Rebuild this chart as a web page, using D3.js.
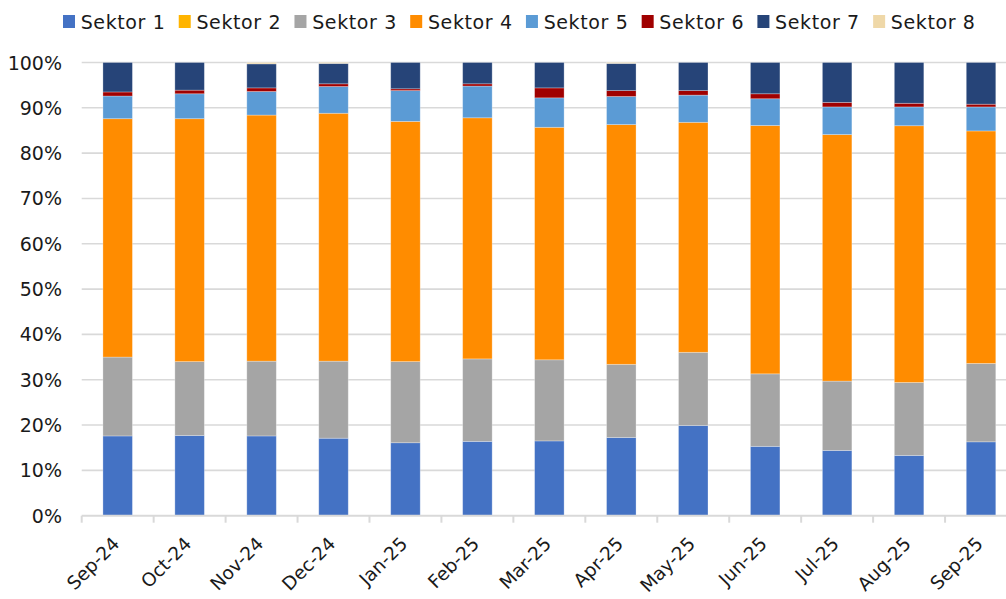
<!DOCTYPE html>
<html>
<head>
<meta charset="utf-8">
<script src="https://cdn.jsdelivr.net/npm/d3@7"></script>
<style>
  html, body { margin: 0; padding: 0; background: #fff; }
  svg { display: block; }
  text { font-family: "DejaVu Sans", sans-serif; fill: #1a1a1a; }
</style>
</head>
<body>
<svg id="chart" width="1006" height="599"></svg>
<script>
const categories = ["Sep-24","Oct-24","Nov-24","Dec-24","Jan-25","Feb-25","Mar-25","Apr-25","May-25","Jun-25","Jul-25","Aug-25","Sep-25"];
const seriesNames = ["Sektor 1","Sektor 2","Sektor 3","Sektor 4","Sektor 5","Sektor 6","Sektor 7","Sektor 8"];
const sektor1 = [17.6, 17.7, 17.6, 17.1, 16.1, 16.4, 16.5, 17.25, 19.9, 15.3, 14.4, 13.3, 16.3];
const sektor2 = [0, 0, 0, 0, 0, 0, 0, 0, 0, 0, 0, 0, 0];
const sektor3 = [17.4, 16.3, 16.5, 17.0, 17.9, 18.2, 17.9, 16.15, 16.15, 16.0, 15.3, 16.1, 17.3];
const sektor4 = [52.6, 53.6, 54.3, 54.7, 53.0, 53.2, 51.3, 52.9, 50.75, 54.8, 54.4, 56.65, 51.3];
const sektor5 = [5.0, 5.5, 5.2, 5.9, 6.8, 7.0, 6.5, 6.2, 6.0, 5.9, 6.1, 4.15, 5.3];
const sektor6 = [0.9, 0.8, 0.8, 0.6, 0.4, 0.5, 2.2, 1.3, 1.0, 1.1, 1.0, 0.8, 0.6];
const sektor7 = [6.5, 6.1, 5.3, 4.5, 5.8, 4.7, 5.6, 6.0, 6.2, 6.9, 8.8, 9.0, 9.2];
const sektor8 = [0, 0, 0.3, 0.2, 0, 0, 0, 0.2, 0, 0, 0, 0, 0];
const yTicks = [0, 10, 20, 30, 40, 50, 60, 70, 80, 90, 100];
const colors = ["#4472C4","#FFB400","#A5A5A5","#FF8C00","#5B9BD5","#A00000","#264478","#EFD8A8"];

const seriesValues = [sektor1, sektor2, sektor3, sektor4, sektor5, sektor6, sektor7, sektor8];
const table = categories.map((c, i) => {
  const row = { cat: c };
  seriesNames.forEach((s, j) => row[s] = seriesValues[j][i]);
  return row;
});

const svg = d3.select("#chart");
const xLeft = 81.7, xRight = 1017.0, yTop = 62.5, yBottom = 515.7;

const x = d3.scaleBand().domain(categories).range([xLeft, xRight])
  .paddingInner(0.59).paddingOuter(0.295);
const y = d3.scaleLinear().domain([0, 100]).range([yBottom, yTop]);

// gridlines
svg.append("g").selectAll("line").data(yTicks.filter(t => t > 0)).join("line")
  .attr("x1", xLeft).attr("x2", 1006)
  .attr("y1", d => y(d)).attr("y2", d => y(d))
  .attr("stroke", "#d9d9d9").attr("stroke-width", 1.6);

// y labels
svg.append("g").selectAll("text").data(yTicks).join("text")
  .attr("x", 62).attr("y", d => y(d))
  .attr("text-anchor", "end").attr("dominant-baseline", "central")
  .style("font-size", "19px")
  .text(d => d + "%");

// bars
const stacked = d3.stack().keys(seriesNames)(table);
svg.append("g").selectAll("g").data(stacked).join("g")
  .attr("fill", (d, i) => colors[i])
  .selectAll("rect").data(d => d).join("rect")
  .attr("x", d => x(d.data.cat))
  .attr("width", x.bandwidth())
  .attr("y", d => y(d[1]))
  .attr("height", d => Math.max(0, y(d[0]) - y(d[1])))
  .attr("stroke", "rgba(255,255,255,0.35)").attr("stroke-width", 0.8);

// x axis line and ticks
const xAxisG = svg.append("g");
xAxisG.append("line").attr("x1", xLeft).attr("x2", 1006)
  .attr("y1", yBottom).attr("y2", yBottom)
  .attr("stroke", "#d9d9d9").attr("stroke-width", 2);
const tickPos = categories.map(c => x(c) - x.step() * x.paddingInner() / 2);
xAxisG.selectAll("line.tick").data(tickPos).join("line")
  .attr("class", "tick")
  .attr("x1", d => d).attr("x2", d => d)
  .attr("y1", yBottom).attr("y2", yBottom + 7)
  .attr("stroke", "#d9d9d9").attr("stroke-width", 2);

// x labels
xAxisG.selectAll("text").data(categories).join("text")
  .attr("transform", d => `translate(${x(d) + x.bandwidth() / 2 + 3},${545}) rotate(-45)`)
  .attr("text-anchor", "end")
  .style("font-size", "18.5px")
  .text(d => d);

// legend
const legend = svg.append("g");
let lx = 63;
seriesNames.forEach((s, i) => {
  legend.append("rect").attr("x", lx).attr("y", 15).attr("width", 12).attr("height", 13)
    .attr("fill", colors[i]);
  const t = legend.append("text").attr("x", lx + 17.7).attr("y", 21.5)
    .attr("dominant-baseline", "central")
    .style("font-size", "19px")
    .style("letter-spacing", "0.62px")
    .text(s);
  const w = t.node().getComputedTextLength();
  lx = lx + 17.7 + w + 13.3;
});
</script>
</body>
</html>
